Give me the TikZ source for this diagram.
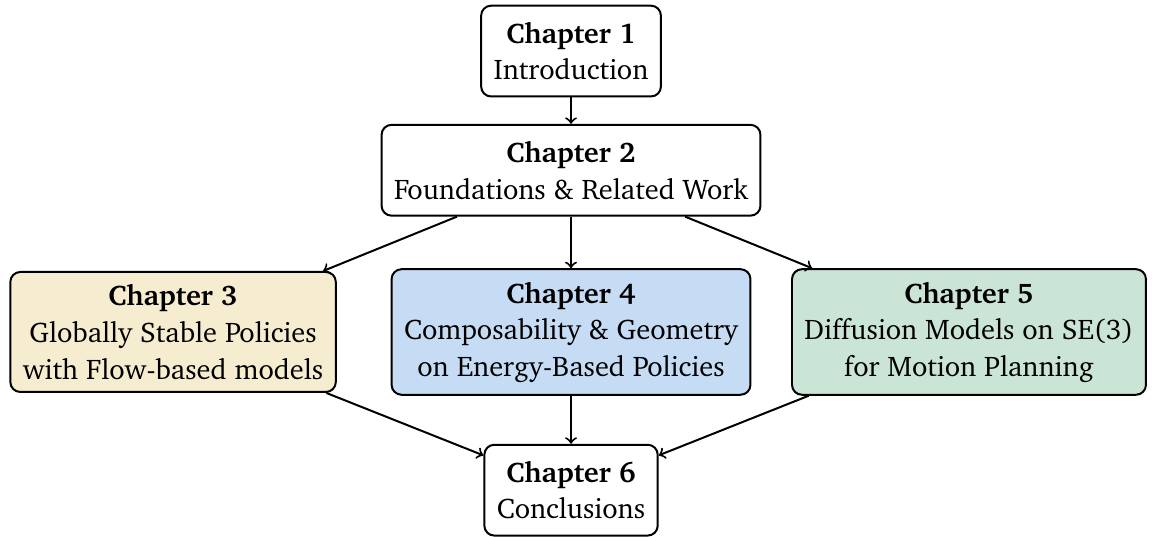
\documentclass[tikz,border=0pt]{standalone}
\usepackage[T1]{fontenc}
\usepackage{charter}
\usetikzlibrary{positioning}
\definecolor{flowfill}{HTML}{F6EDD0}
\definecolor{energyfill}{HTML}{C6DCF5}
\definecolor{diffusionfill}{HTML}{CAE5D6}
\begin{document}
\begin{tikzpicture}[
  node distance=1.68cm,
  every node/.style={
    draw,
    rounded corners,
    align=center,
    inner xsep=5pt,
    inner ysep=5pt,
    minimum height=1.28cm,
    font=\fontsize{11.4}{14.7}\selectfont
  },
  every path/.style={->, thick}
]
\useasboundingbox (-8.05,0.72) rectangle (8.19,-6.84);

\node (ch1) {\textbf{Chapter 1}\\ Introduction};
\node (ch2) [below of=ch1] {\textbf{Chapter 2}\\ Foundations \& Related Work};
\node (ch4) [node distance=2.28cm, below of=ch2, fill=energyfill] {\textbf{Chapter 4}\\ Composability \& Geometry\\ on Energy-Based Policies};
\node (ch3) [node distance=5.61cm, left of=ch4, fill=flowfill] {\textbf{Chapter 3}\\ Globally Stable Policies\\ with Flow-based models};
\node (ch5) [node distance=5.61cm, right of=ch4, fill=diffusionfill] {\textbf{Chapter 5}\\ Diffusion Models on SE(3)\\ for Motion Planning};
\node (ch6) [node distance=2.23cm, below of=ch4] {\textbf{Chapter 6}\\ Conclusions};

\draw (ch1) -- (ch2);
\draw (ch2) -- (ch3);
\draw (ch2) -- (ch4);
\draw (ch2) -- (ch5);
\draw (ch3) -- (ch6);
\draw (ch4) -- (ch6);
\draw (ch5) -- (ch6);
\end{tikzpicture}
\end{document}
